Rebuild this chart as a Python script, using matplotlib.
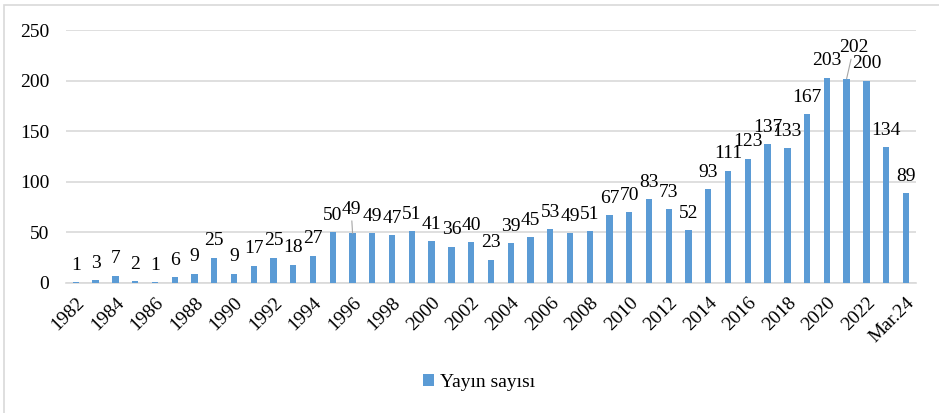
import matplotlib
matplotlib.use("Agg")
import matplotlib.pyplot as plt
import matplotlib.patches as patches
import numpy as np

# data
years = [str(y) for y in range(1982, 2024)] + ["Mar.24"]
counts = [1, 3, 7, 2, 1, 6, 9, 25, 9, 17, 25, 18, 27, 50, 49, 49, 47, 51, 41, 36,
          40, 23, 39, 45, 53, 49, 51, 67, 70, 83, 73, 52, 93, 111, 123, 137, 133,
          167, 203, 202, 200, 134, 89]
series_name = "Yayın sayısı"

plt.rcParams['font.family'] = ['Liberation Serif', 'DejaVu Serif']
plt.rcParams['font.size'] = 14

fig = plt.figure(figsize=(9.39, 4.13), dpi=100)
ax = fig.add_axes([0.0703, 0.315, 0.905, 0.612])

x = np.arange(len(years))
bar_color = '#5B9BD5'
ax.bar(x, counts, width=0.32, color=bar_color, zorder=3, label=series_name)

# data labels (two of them pulled up with a leader line, as in the original)
for i, v in enumerate(counts):
    if years[i] == "1996":
        ax.annotate(str(v), xy=(i, v), xytext=(-1, 11), textcoords='offset points',
                    ha='center', va='bottom',
                    arrowprops=dict(arrowstyle='-', color='#a6a6a6', lw=0.8,
                                    shrinkA=0, shrinkB=0))
    elif years[i] == "2021":
        ax.annotate(str(v), xy=(i, v), xytext=(5, 16), textcoords='offset points',
                    ha='center', va='bottom',
                    arrowprops=dict(arrowstyle='-', color='#a6a6a6', lw=0.8,
                                    shrinkA=0, shrinkB=0))
    else:
        ax.annotate(str(v), xy=(i, v), xytext=(0, 6), textcoords='offset points',
                    ha='center', va='bottom')

ax.set_xlim(-0.5, len(years) - 0.5)
ax.set_ylim(0, 250)
ax.set_yticks(np.arange(0, 251, 50))
ax.yaxis.grid(True, color='#d9d9d9', lw=1.2, zorder=0)
ax.tick_params(axis='y', length=0, pad=12)
ax.tick_params(axis='x', length=0, pad=8)

ax.set_xticks(x[::2])
ax.set_xticklabels(years[::2], rotation=45, ha='right', rotation_mode='anchor')

for s in ['top', 'right', 'left']:
    ax.spines[s].set_visible(False)
ax.spines['bottom'].set_color('#d9d9d9')
ax.spines['bottom'].set_linewidth(1.2)

# legend at bottom
fig.legend(loc='center', bbox_to_anchor=(0.51, 0.075), frameon=False,
           handlelength=0.6, handleheight=0.6, handletextpad=0.3, fontsize=14)

# outer chart border
fig.patches.append(patches.Rectangle((4 / 939, -0.1), 1.2, 1.1 - 5 / 413,
                                     transform=fig.transFigure, fill=False,
                                     edgecolor='#d9d9d9', lw=1.2))

fig.savefig("out.png", dpi=100)
